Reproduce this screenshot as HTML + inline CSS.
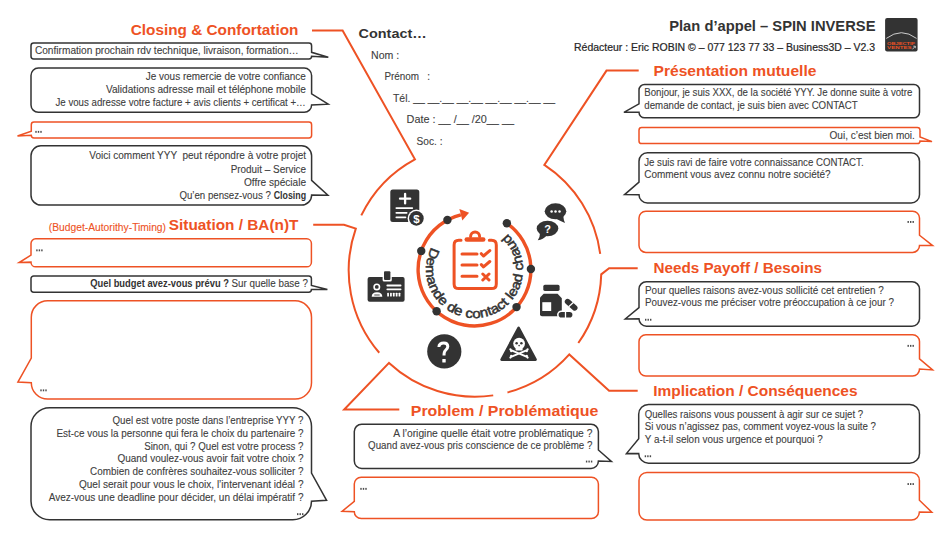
<!DOCTYPE html>
<html><head><meta charset="utf-8"><title>Plan d'appel - SPIN INVERSE</title>
<style>
html,body{margin:0;padding:0;background:#fff;}
body{width:950px;height:534px;overflow:hidden;}
svg{display:block;font-family:"Liberation Sans",sans-serif;}
</style></head><body>
<svg width="950" height="534" viewBox="0 0 950 534">
<path d="M33.67,43.00 H308.93 A2.67,2.67 0 0 1 311.60,45.67 V52.33 L328.30,57.30 L311.60,56.33 V56.33 A2.67,2.67 0 0 1 308.93,59.00 H33.67 A2.67,2.67 0 0 1 31.00,56.33 V45.67 A2.67,2.67 0 0 1 33.67,43.00 Z" fill="#fff" stroke="#333333" stroke-width="1.5" stroke-linejoin="miter"/>
<path d="M38.37,68.10 H304.23 A7.37,7.37 0 0 1 311.60,75.47 V93.88 L328.20,104.20 L311.60,104.93 V104.93 A7.37,7.37 0 0 1 304.23,112.30 H38.37 A7.37,7.37 0 0 1 31.00,104.93 V75.47 A7.37,7.37 0 0 1 38.37,68.10 Z" fill="#fff" stroke="#333333" stroke-width="1.5" stroke-linejoin="miter"/>
<path d="M33.97,122.00 H308.93 A2.67,2.67 0 0 1 311.60,124.67 V135.33 A2.67,2.67 0 0 1 308.93,138.00 H33.97 A2.67,2.67 0 0 1 31.30,135.33 V135.33 L17.50,136.00 L31.30,131.33 V124.67 A2.67,2.67 0 0 1 33.97,122.00 Z" fill="#fff" stroke="#EE5224" stroke-width="1.5" stroke-linejoin="miter"/>
<path d="M40.87,145.80 H301.73 A9.87,9.87 0 0 1 311.60,155.67 V180.33 L327.90,195.30 L311.60,195.13 V195.13 A9.87,9.87 0 0 1 301.73,205.00 H40.87 A9.87,9.87 0 0 1 31.00,195.13 V155.67 A9.87,9.87 0 0 1 40.87,145.80 Z" fill="#fff" stroke="#333333" stroke-width="1.5" stroke-linejoin="miter"/>
<path d="M35.67,238.80 H306.73 A4.67,4.67 0 0 1 311.40,243.47 V262.13 A4.67,4.67 0 0 1 306.73,266.80 H35.67 A4.67,4.67 0 0 1 31.00,262.13 V262.13 L19.20,262.50 L31.00,255.13 V243.47 A4.67,4.67 0 0 1 35.67,238.80 Z" fill="#fff" stroke="#EE5224" stroke-width="1.5" stroke-linejoin="miter"/>
<path d="M33.72,275.90 H308.68 A2.72,2.72 0 0 1 311.40,278.62 V285.41 L327.40,289.60 L311.40,289.48 V289.48 A2.72,2.72 0 0 1 308.68,292.20 H33.72 A2.72,2.72 0 0 1 31.00,289.48 V278.62 A2.72,2.72 0 0 1 33.72,275.90 Z" fill="#fff" stroke="#333333" stroke-width="1.5" stroke-linejoin="miter"/>
<path d="M47.67,300.80 H295.13 A16.37,16.37 0 0 1 311.50,317.17 V382.63 A16.37,16.37 0 0 1 295.13,399.00 H47.67 A16.37,16.37 0 0 1 31.30,382.63 V382.63 L17.90,382.10 L31.30,358.08 V317.17 A16.37,16.37 0 0 1 47.67,300.80 Z" fill="#fff" stroke="#EE5224" stroke-width="1.5" stroke-linejoin="miter"/>
<path d="M49.67,407.80 H292.83 A18.67,18.67 0 0 1 311.50,426.47 V473.13 L326.60,500.30 L311.50,501.13 V501.13 A18.67,18.67 0 0 1 292.83,519.80 H49.67 A18.67,18.67 0 0 1 31.00,501.13 V426.47 A18.67,18.67 0 0 1 49.67,407.80 Z" fill="#fff" stroke="#333333" stroke-width="1.5" stroke-linejoin="miter"/>
<path d="M361.67,424.20 H591.03 A7.37,7.37 0 0 1 598.40,431.57 V449.98 L611.40,461.40 L598.40,461.03 V461.03 A7.37,7.37 0 0 1 591.03,468.40 H361.67 A7.37,7.37 0 0 1 354.30,461.03 V431.57 A7.37,7.37 0 0 1 361.67,424.20 Z" fill="#fff" stroke="#333333" stroke-width="1.5" stroke-linejoin="miter"/>
<path d="M361.20,477.20 H591.50 A6.90,6.90 0 0 1 598.40,484.10 V511.70 A6.90,6.90 0 0 1 591.50,518.60 H361.20 A6.90,6.90 0 0 1 354.30,511.70 V511.70 L342.10,511.30 L354.30,501.35 V484.10 A6.90,6.90 0 0 1 361.20,477.20 Z" fill="#fff" stroke="#EE5224" stroke-width="1.5" stroke-linejoin="miter"/>
<path d="M644.55,84.50 H913.95 A5.55,5.55 0 0 1 919.50,90.05 V112.25 A5.55,5.55 0 0 1 913.95,117.80 H644.55 A5.55,5.55 0 0 1 639.00,112.25 V112.25 L623.90,112.30 L639.00,103.92 V90.05 A5.55,5.55 0 0 1 644.55,84.50 Z" fill="#fff" stroke="#333333" stroke-width="1.5" stroke-linejoin="miter"/>
<path d="M641.67,127.60 H917.33 A2.67,2.67 0 0 1 920.00,130.27 V136.93 L932.00,141.60 L920.00,140.93 V140.93 A2.67,2.67 0 0 1 917.33,143.60 H641.67 A2.67,2.67 0 0 1 639.00,140.93 V130.27 A2.67,2.67 0 0 1 641.67,127.60 Z" fill="#fff" stroke="#EE5224" stroke-width="1.5" stroke-linejoin="miter"/>
<path d="M647.37,152.80 H911.13 A8.37,8.37 0 0 1 919.50,161.17 V194.63 A8.37,8.37 0 0 1 911.13,203.00 H647.37 A8.37,8.37 0 0 1 639.00,194.63 V194.63 L624.60,194.60 L639.00,182.08 V161.17 A8.37,8.37 0 0 1 647.37,152.80 Z" fill="#fff" stroke="#333333" stroke-width="1.5" stroke-linejoin="miter"/>
<path d="M645.87,211.20 H912.63 A6.87,6.87 0 0 1 919.50,218.07 V235.23 L932.60,245.60 L919.50,245.53 V245.53 A6.87,6.87 0 0 1 912.63,252.40 H645.87 A6.87,6.87 0 0 1 639.00,245.53 V218.07 A6.87,6.87 0 0 1 645.87,211.20 Z" fill="#fff" stroke="#EE5224" stroke-width="1.5" stroke-linejoin="miter"/>
<path d="M646.42,281.70 H912.08 A7.42,7.42 0 0 1 919.50,289.12 V318.78 A7.42,7.42 0 0 1 912.08,326.20 H646.42 A7.42,7.42 0 0 1 639.00,318.78 V318.78 L625.30,319.00 L639.00,307.66 V289.12 A7.42,7.42 0 0 1 646.42,281.70 Z" fill="#fff" stroke="#333333" stroke-width="1.5" stroke-linejoin="miter"/>
<path d="M645.88,334.70 H912.62 A6.88,6.88 0 0 1 919.50,341.58 V358.79 L932.60,369.90 L919.50,369.12 V369.12 A6.88,6.88 0 0 1 912.62,376.00 H645.88 A6.88,6.88 0 0 1 639.00,369.12 V341.58 A6.88,6.88 0 0 1 645.88,334.70 Z" fill="#fff" stroke="#EE5224" stroke-width="1.5" stroke-linejoin="miter"/>
<path d="M648.50,404.40 H909.70 A9.80,9.80 0 0 1 919.50,414.20 V453.40 A9.80,9.80 0 0 1 909.70,463.20 H648.50 A9.80,9.80 0 0 1 638.70,453.40 V453.40 L626.40,453.60 L638.70,438.70 V414.20 A9.80,9.80 0 0 1 648.50,404.40 Z" fill="#fff" stroke="#333333" stroke-width="1.5" stroke-linejoin="miter"/>
<path d="M646.92,472.50 H911.48 A7.92,7.92 0 0 1 919.40,480.42 V500.21 L931.80,512.20 L919.40,512.08 V512.08 A7.92,7.92 0 0 1 911.48,520.00 H646.92 A7.92,7.92 0 0 1 639.00,512.08 V480.42 A7.92,7.92 0 0 1 646.92,472.50 Z" fill="#fff" stroke="#EE5224" stroke-width="1.5" stroke-linejoin="miter"/>
<path d="M312.00,30.50 L342.60,30.50 L414.93,159.30  A126.3,126.3 0 0 0 361.29,215.43" fill="none" stroke="#EE5224" stroke-width="2" stroke-linejoin="miter"/>
<path d="M313.20,224.80 L344.00,224.80 L355.80,228.66 A126.3,126.3 0 0 0 379.25,352.76" fill="none" stroke="#EE5224" stroke-width="2" stroke-linejoin="miter"/>
<path d="M399.30,409.50 L344.20,409.50 L389.02,362.92 A126.3,126.3 0 0 0 493.23,395.38" fill="none" stroke="#EE5224" stroke-width="2" stroke-linejoin="miter"/>
<path d="M637.70,390.70 L609.10,390.70 L569.30,354.42 A126.3,126.3 0 0 1 507.48,392.45" fill="none" stroke="#EE5224" stroke-width="2" stroke-linejoin="miter"/>
<path d="M637.70,268.20 L609.10,268.20 L601.24,274.37 A126.3,126.3 0 0 1 578.33,343.02" fill="none" stroke="#EE5224" stroke-width="2" stroke-linejoin="miter"/>
<path d="M638.70,70.60 L606.50,70.60 L544.34,164.84 A126.3,126.3 0 0 1 600.22,253.91" fill="none" stroke="#EE5224" stroke-width="2" stroke-linejoin="miter"/>
<path d="M506.85,223.30 A56.4,56.4 0 1 1 460.86,214.78" fill="none" stroke="#EE5224" stroke-width="3.4"/>
<path d="M459.40,208.95 L469.10,212.72 L462.31,220.60 Z" fill="#EE5224"/>
<circle cx="447.42" cy="220.03" r="4.2" fill="#333333"/>
<circle cx="421.24" cy="250.95" r="4.2" fill="#333333"/>
<circle cx="436.61" cy="311.28" r="4.2" fill="#333333"/>
<circle cx="516.54" cy="307.09" r="4.2" fill="#333333"/>
<circle cx="530.90" cy="269.01" r="4.2" fill="#333333"/>
<circle cx="506.85" cy="223.30" r="4.2" fill="#333333"/>
<path id="cp" d="M431.48,247.11 A48.5,48.5 0 1 0 507.58,234.03" fill="none"/>
<text font-size="13.3" fill="#333" stroke="#333" stroke-width="0.5" textLength="215.4" lengthAdjust="spacingAndGlyphs"><textPath href="#cp" textLength="215.4" lengthAdjust="spacingAndGlyphs">Demande de contact lead chaud</textPath></text>
<g fill="none" stroke="#EE5224" stroke-width="3" stroke-linecap="round" stroke-linejoin="round">
<path d="M461,240.2 H458.8 Q454.1,240.2 454.1,244.9 V283.9 Q454.1,288.6 458.8,288.6 H491.6 Q496.3,288.6 496.3,283.9 V244.9 Q496.3,240.2 491.6,240.2 H489.3"/>
<path d="M470.6,236.6 A4.5,4.5 0 0 1 479.6,236.6"/>
<path d="M462,254 H477 M462,265 H477 M462,276.3 H477"/>
<path d="M481.3,253.7 L483.5,256 L489.8,250.6 M481.3,264.6 L483.5,266.9 L489.8,261.5 M482.8,274 L489,280 M489,274 L482.8,280"/>
</g>
<rect x="464.5" y="237.2" width="21" height="4.6" rx="2.3" fill="#EE5224"/>
<rect x="390.3" y="189.4" width="29" height="32.7" rx="2.5" fill="#333333"/>
<g stroke="#fff" stroke-width="2.3" stroke-linecap="round"><path d="M400,198.7 H410.2 M405.1,193.8 V203.4"/><path d="M396.3,208.1 H412.3 M396.3,212.8 H406.7 M396.3,217.3 H405.5" stroke-width="1.7"/></g>
<circle cx="416.4" cy="218.4" r="8.8" fill="#fff"/><circle cx="416.4" cy="218.4" r="7.3" fill="#333333"/>
<text x="416.4" y="222.6" font-size="11.5" font-weight="bold" fill="#fff" text-anchor="middle">$</text>
<rect x="367.6" y="276.9" width="37" height="24.8" rx="2" fill="#333333"/>
<rect x="382.6" y="269.8" width="9.2" height="11.6" rx="1.5" fill="#fff"/>
<rect x="384" y="271.2" width="6.4" height="8.9" rx="1" fill="#333333"/>
<circle cx="376.8" cy="286.9" r="3.5" fill="#fff"/>
<circle cx="376.8" cy="286.9" r="1.9" fill="#333333"/>
<path d="M371.7,296.8 Q371.7,292.2 377,292.2 Q382.3,292.2 382.3,296.8 Z" fill="#fff"/>
<path d="M374.3,295 H379.7" stroke="#333333" stroke-width="0.9"/>
<path d="M387.3,285.5 H400.6 M387.3,289.3 H400.6" stroke="#fff" stroke-width="1.8" stroke-linecap="round"/>
<rect x="387.20" y="292.7" width="1.75" height="3.9" rx="0.6" fill="#fff"/>
<rect x="390.05" y="292.7" width="1.75" height="3.9" rx="0.6" fill="#fff"/>
<rect x="392.90" y="292.7" width="1.75" height="3.9" rx="0.6" fill="#fff"/>
<rect x="395.75" y="292.7" width="1.75" height="3.9" rx="0.6" fill="#fff"/>
<rect x="398.60" y="292.7" width="1.75" height="3.9" rx="0.6" fill="#fff"/>
<circle cx="444.3" cy="351.4" r="17.1" fill="#333333"/>
<path d="M438.9,347 C438.9,344.5 441,342.9 443.8,342.9 C446.4,342.9 447.8,344.6 447.8,346.6 C447.8,348.6 446.6,349.6 445.3,350.6 C444.2,351.5 444,352.5 444,355.6" fill="none" stroke="#fff" stroke-width="3"/>
<rect x="442.3" y="358.9" width="3.4" height="3.6" rx="0.5" fill="#fff"/>
<path d="M518.6,327.8 L501.6,359.6 L535.6,359.6 Z" fill="#333333" stroke="#333333" stroke-width="2.6" stroke-linejoin="round"/>
<circle cx="519.1" cy="343.6" r="5.9" fill="#fff"/>
<rect x="515.6" y="346" width="7" height="4.6" rx="1.2" fill="#fff"/>
<circle cx="516.6" cy="343.2" r="1.25" fill="#333333"/><circle cx="521.4" cy="343.2" r="1.25" fill="#333333"/><circle cx="519.1" cy="345.6" r="0.8" fill="#333333"/>
<path d="M511,350.2 L527,356.8 M527,350.2 L511,356.8" stroke="#fff" stroke-width="2" stroke-linecap="round"/>
<circle cx="510.4" cy="349.4" r="1.1" fill="#fff"/>
<circle cx="511.2" cy="351.2" r="1.1" fill="#fff"/>
<circle cx="527.6" cy="349.4" r="1.1" fill="#fff"/>
<circle cx="526.8" cy="351.2" r="1.1" fill="#fff"/>
<circle cx="510.4" cy="357.6" r="1.1" fill="#fff"/>
<circle cx="511.2" cy="355.8" r="1.1" fill="#fff"/>
<circle cx="527.6" cy="357.6" r="1.1" fill="#fff"/>
<circle cx="526.8" cy="355.8" r="1.1" fill="#fff"/>
<rect x="543.3" y="284.8" width="16.3" height="6.1" rx="1.6" fill="#333333"/>
<path d="M543.7,293.7 H557.6 L561.8,298.3 V314.3 Q561.8,316.3 559.8,316.3 H542 Q540,316.3 540,314.3 V297.6 Z" fill="#333333"/>
<rect x="542.3" y="302.2" width="8.9" height="8.8" fill="#fff"/>
<rect x="557" y="310.4" width="17" height="8.8" rx="4.4" fill="#fff"/>
<rect x="558.6" y="312" width="13.8" height="5.6" rx="2.8" fill="#333333"/>
<path d="M565.5,311.5 V318" stroke="#fff" stroke-width="1.3"/>
<path d="M567.6,301.6 L574.7,307.9" stroke="#333333" stroke-width="5.6" stroke-linecap="round"/>
<path d="M568.6,306.8 L573.6,302.3" stroke="#fff" stroke-width="1.3"/>
<ellipse cx="555.5" cy="211.3" rx="10.8" ry="8" fill="#333333"/>
<path d="M555.5,218.6 Q561,221.5 565,222.9 Q563.6,220 563.3,216.3 Z" fill="#333333"/>
<circle cx="551.6" cy="211.6" r="1.25" fill="#fff"/><circle cx="555.5" cy="211.6" r="1.25" fill="#fff"/><circle cx="559.5" cy="211.6" r="1.25" fill="#fff"/>
<ellipse cx="547.5" cy="228.5" rx="12.2" ry="9.2" fill="#fff"/>
<ellipse cx="547.5" cy="228.5" rx="10.8" ry="7.8" fill="#333333"/>
<path d="M540,233.3 Q540,237.5 537.8,240.3 Q543.2,239.6 546.8,235.6 Z" fill="#333333"/>
<text x="547.6" y="232.6" font-size="11" font-weight="bold" fill="#fff" text-anchor="middle">?</text>
<rect x="885.1" y="18" width="32.5" height="33.6" rx="2" fill="#333"/>
<path d="M886.3,38.4 Q901.4,27 916.5,38.4" fill="none" stroke="#ddd" stroke-width="0.9"/>
<text x="887.1" y="44.7" font-size="4.2" font-weight="bold" fill="#EE5224" textLength="28" lengthAdjust="spacingAndGlyphs">OBJECTIF</text>
<text x="887.1" y="49.4" font-size="4.2" font-weight="bold" fill="#EE5224" textLength="24.5" lengthAdjust="spacingAndGlyphs">VENTES</text>
<path d="M912.5,49.3 L915.2,46.3 M913.3,46.2 H915.3 V48.2" stroke="#ddd" stroke-width="0.8" fill="none"/>
<text x="130.80" y="34.80" font-size="15.1" fill="#EE5224" font-weight="bold" textLength="167.60" lengthAdjust="spacingAndGlyphs" style="white-space:pre">Closing &amp; Confortation</text>
<text x="48.80" y="230.50" font-size="10.0" fill="#EE5224" stroke="#EE5224" stroke-width="0.1" font-weight="normal" textLength="117.20" lengthAdjust="spacingAndGlyphs" style="white-space:pre">(Budget-Autorithy-Timing)</text>
<text x="168.80" y="230.20" font-size="15.1" fill="#EE5224" font-weight="bold" textLength="129.60" lengthAdjust="spacingAndGlyphs" style="white-space:pre">Situation / BA(n)T</text>
<text x="410.80" y="415.80" font-size="15.1" fill="#EE5224" font-weight="bold" textLength="187.60" lengthAdjust="spacingAndGlyphs" style="white-space:pre">Problem / Problématique</text>
<text x="653.50" y="76.10" font-size="15.1" fill="#EE5224" font-weight="bold" textLength="162.90" lengthAdjust="spacingAndGlyphs" style="white-space:pre">Présentation mutuelle</text>
<text x="653.50" y="272.70" font-size="15.1" fill="#EE5224" font-weight="bold" textLength="168.50" lengthAdjust="spacingAndGlyphs" style="white-space:pre">Needs Payoff / Besoins</text>
<text x="653.20" y="396.10" font-size="15.1" fill="#EE5224" font-weight="bold" textLength="204.30" lengthAdjust="spacingAndGlyphs" style="white-space:pre">Implication / Conséquences</text>
<text x="669.20" y="30.60" font-size="14.4" fill="#333" font-weight="bold" textLength="206.30" lengthAdjust="spacingAndGlyphs" style="white-space:pre">Plan d’appel – SPIN INVERSE</text>
<text x="574.00" y="50.90" font-size="10.3" fill="#262626" stroke="#262626" stroke-width="0.2" font-weight="normal" textLength="301.00" lengthAdjust="spacingAndGlyphs" style="white-space:pre">Rédacteur : Eric ROBIN © – 077 123 77 33 – Business3D – V2.3</text>
<text x="358.50" y="37.60" font-size="13.6" fill="#333" font-weight="bold" textLength="68.20" lengthAdjust="spacingAndGlyphs" style="white-space:pre">Contact…</text>
<text x="371.00" y="58.50" font-size="10.1" fill="#404040" stroke="#404040" stroke-width="0.1" font-weight="normal" textLength="28.20" lengthAdjust="spacingAndGlyphs" style="white-space:pre">Nom :</text>
<text x="384.40" y="80.00" font-size="10.1" fill="#404040" stroke="#404040" stroke-width="0.1" font-weight="normal" textLength="45.60" lengthAdjust="spacingAndGlyphs" style="white-space:pre">Prénom   :</text>
<text x="393.00" y="102.00" font-size="10.1" fill="#404040" stroke="#404040" stroke-width="0.1" font-weight="normal" textLength="162.00" lengthAdjust="spacingAndGlyphs" style="white-space:pre">Tél. __ __.__ __.__ __.__ __.__ __</text>
<text x="406.60" y="123.40" font-size="10.1" fill="#404040" stroke="#404040" stroke-width="0.1" font-weight="normal" textLength="107.40" lengthAdjust="spacingAndGlyphs" style="white-space:pre">Date : __ /__ /20__ __</text>
<text x="416.60" y="145.00" font-size="10.1" fill="#404040" stroke="#404040" stroke-width="0.1" font-weight="normal" textLength="25.90" lengthAdjust="spacingAndGlyphs" style="white-space:pre">Soc. :</text>
<text x="34.90" y="54.20" font-size="10.0" fill="#404040" stroke="#404040" stroke-width="0.1" font-weight="normal" textLength="263.80" lengthAdjust="spacingAndGlyphs" style="white-space:pre">Confirmation prochain rdv technique, livraison, formation…</text>
<text x="145.80" y="79.70" font-size="10.0" fill="#404040" stroke="#404040" stroke-width="0.1" font-weight="normal" textLength="160.00" lengthAdjust="spacingAndGlyphs" style="white-space:pre">Je vous remercie de votre confiance</text>
<text x="106.00" y="92.70" font-size="10.0" fill="#404040" stroke="#404040" stroke-width="0.1" font-weight="normal" textLength="199.80" lengthAdjust="spacingAndGlyphs" style="white-space:pre">Validations adresse mail et téléphone mobile</text>
<text x="55.50" y="105.80" font-size="10.0" fill="#404040" stroke="#404040" stroke-width="0.1" font-weight="normal" textLength="250.30" lengthAdjust="spacingAndGlyphs" style="white-space:pre">Je vous adresse votre facture + avis clients + certificat +…</text>
<rect x="35.30" y="130.90" width="1.4" height="1.9" fill="#4a4a4a"/>
<rect x="37.80" y="130.90" width="1.4" height="1.9" fill="#4a4a4a"/>
<rect x="40.30" y="130.90" width="1.4" height="1.9" fill="#4a4a4a"/>
<text x="89.30" y="159.40" font-size="10.0" fill="#404040" stroke="#404040" stroke-width="0.1" font-weight="normal" textLength="216.80" lengthAdjust="spacingAndGlyphs" style="white-space:pre">Voici comment YYY  peut répondre à votre projet</text>
<text x="230.70" y="172.50" font-size="10.0" fill="#404040" stroke="#404040" stroke-width="0.1" font-weight="normal" textLength="75.40" lengthAdjust="spacingAndGlyphs" style="white-space:pre">Produit – Service</text>
<text x="243.90" y="185.50" font-size="10.0" fill="#404040" stroke="#404040" stroke-width="0.1" font-weight="normal" textLength="62.20" lengthAdjust="spacingAndGlyphs" style="white-space:pre">Offre spéciale</text>
<text x="179.40" y="198.70" font-size="10.0" fill="#404040" stroke="#404040" stroke-width="0.1" font-weight="normal" textLength="91.40" lengthAdjust="spacingAndGlyphs" style="white-space:pre">Qu’en pensez-vous ?</text>
<text x="273.70" y="198.70" font-size="10.2" fill="#333" font-weight="bold" textLength="32.40" lengthAdjust="spacingAndGlyphs" style="white-space:pre">Closing</text>
<rect x="36.20" y="249.40" width="1.4" height="1.9" fill="#4a4a4a"/>
<rect x="38.70" y="249.40" width="1.4" height="1.9" fill="#4a4a4a"/>
<rect x="41.20" y="249.40" width="1.4" height="1.9" fill="#4a4a4a"/>
<text x="90.30" y="286.50" font-size="10.0" fill="#333" font-weight="bold" textLength="138.60" lengthAdjust="spacingAndGlyphs" style="white-space:pre">Quel budget avez-vous prévu ?</text>
<text x="231.50" y="286.50" font-size="10.0" fill="#404040" stroke="#404040" stroke-width="0.1" font-weight="normal" textLength="76.40" lengthAdjust="spacingAndGlyphs" style="white-space:pre">Sur quelle base ?</text>
<rect x="40.30" y="389.40" width="1.4" height="1.9" fill="#4a4a4a"/>
<rect x="42.80" y="389.40" width="1.4" height="1.9" fill="#4a4a4a"/>
<rect x="45.30" y="389.40" width="1.4" height="1.9" fill="#4a4a4a"/>
<text x="112.50" y="423.60" font-size="10.0" fill="#404040" stroke="#404040" stroke-width="0.1" font-weight="normal" textLength="191.00" lengthAdjust="spacingAndGlyphs" style="white-space:pre">Quel est votre poste dans l’entreprise YYY ?</text>
<text x="56.50" y="436.55" font-size="10.0" fill="#404040" stroke="#404040" stroke-width="0.1" font-weight="normal" textLength="247.00" lengthAdjust="spacingAndGlyphs" style="white-space:pre">Est-ce vous la personne qui fera le choix du partenaire ?</text>
<text x="144.20" y="449.50" font-size="10.0" fill="#404040" stroke="#404040" stroke-width="0.1" font-weight="normal" textLength="159.30" lengthAdjust="spacingAndGlyphs" style="white-space:pre">Sinon, qui ? Quel est votre process ?</text>
<text x="117.40" y="462.45" font-size="10.0" fill="#404040" stroke="#404040" stroke-width="0.1" font-weight="normal" textLength="186.10" lengthAdjust="spacingAndGlyphs" style="white-space:pre">Quand voulez-vous avoir fait votre choix ?</text>
<text x="90.10" y="475.40" font-size="10.0" fill="#404040" stroke="#404040" stroke-width="0.1" font-weight="normal" textLength="213.40" lengthAdjust="spacingAndGlyphs" style="white-space:pre">Combien de confrères souhaitez-vous solliciter ?</text>
<text x="78.90" y="488.35" font-size="10.0" fill="#404040" stroke="#404040" stroke-width="0.1" font-weight="normal" textLength="224.60" lengthAdjust="spacingAndGlyphs" style="white-space:pre">Quel serait pour vous le choix, l’intervenant idéal ?</text>
<text x="48.70" y="501.30" font-size="10.0" fill="#404040" stroke="#404040" stroke-width="0.1" font-weight="normal" textLength="254.80" lengthAdjust="spacingAndGlyphs" style="white-space:pre">Avez-vous une deadline pour décider, un délai impératif ?</text>
<rect x="297.00" y="513.20" width="1.4" height="1.9" fill="#4a4a4a"/>
<rect x="299.50" y="513.20" width="1.4" height="1.9" fill="#4a4a4a"/>
<rect x="302.00" y="513.20" width="1.4" height="1.9" fill="#4a4a4a"/>
<text x="393.30" y="436.60" font-size="10.0" fill="#404040" stroke="#404040" stroke-width="0.1" font-weight="normal" textLength="199.10" lengthAdjust="spacingAndGlyphs" style="white-space:pre">A l’origine quelle était votre problématique ?</text>
<text x="368.10" y="449.20" font-size="10.0" fill="#404040" stroke="#404040" stroke-width="0.1" font-weight="normal" textLength="224.30" lengthAdjust="spacingAndGlyphs" style="white-space:pre">Quand avez-vous pris conscience de ce problème ?</text>
<rect x="585.90" y="460.60" width="1.4" height="1.9" fill="#4a4a4a"/>
<rect x="588.40" y="460.60" width="1.4" height="1.9" fill="#4a4a4a"/>
<rect x="590.90" y="460.60" width="1.4" height="1.9" fill="#4a4a4a"/>
<rect x="360.30" y="487.90" width="1.4" height="1.9" fill="#4a4a4a"/>
<rect x="362.80" y="487.90" width="1.4" height="1.9" fill="#4a4a4a"/>
<rect x="365.30" y="487.90" width="1.4" height="1.9" fill="#4a4a4a"/>
<text x="644.30" y="96.30" font-size="10.0" fill="#404040" stroke="#404040" stroke-width="0.1" font-weight="normal" textLength="268.10" lengthAdjust="spacingAndGlyphs" style="white-space:pre">Bonjour, je suis XXX, de la société YYY. Je donne suite à votre</text>
<text x="644.30" y="108.60" font-size="10.0" fill="#404040" stroke="#404040" stroke-width="0.1" font-weight="normal" textLength="213.40" lengthAdjust="spacingAndGlyphs" style="white-space:pre">demande de contact, je suis bien avec CONTACT</text>
<text x="829.50" y="139.00" font-size="10.0" fill="#404040" stroke="#404040" stroke-width="0.1" font-weight="normal" textLength="85.40" lengthAdjust="spacingAndGlyphs" style="white-space:pre">Oui, c’est bien moi.</text>
<text x="644.20" y="165.50" font-size="10.0" fill="#404040" stroke="#404040" stroke-width="0.1" font-weight="normal" textLength="219.40" lengthAdjust="spacingAndGlyphs" style="white-space:pre">Je suis ravi de faire votre connaissance CONTACT.</text>
<text x="644.20" y="177.80" font-size="10.0" fill="#404040" stroke="#404040" stroke-width="0.1" font-weight="normal" textLength="186.50" lengthAdjust="spacingAndGlyphs" style="white-space:pre">Comment vous avez connu notre société?</text>
<rect x="907.50" y="221.00" width="1.4" height="1.9" fill="#4a4a4a"/>
<rect x="910.00" y="221.00" width="1.4" height="1.9" fill="#4a4a4a"/>
<rect x="912.50" y="221.00" width="1.4" height="1.9" fill="#4a4a4a"/>
<text x="645.00" y="294.10" font-size="10.0" fill="#404040" stroke="#404040" stroke-width="0.1" font-weight="normal" textLength="238.80" lengthAdjust="spacingAndGlyphs" style="white-space:pre">Pour quelles raisons avez-vous sollicité cet entretien ?</text>
<text x="645.00" y="306.40" font-size="10.0" fill="#404040" stroke="#404040" stroke-width="0.1" font-weight="normal" textLength="248.90" lengthAdjust="spacingAndGlyphs" style="white-space:pre">Pouvez-vous me préciser votre préoccupation à ce jour ?</text>
<rect x="645.00" y="318.80" width="1.4" height="1.9" fill="#4a4a4a"/>
<rect x="647.50" y="318.80" width="1.4" height="1.9" fill="#4a4a4a"/>
<rect x="650.00" y="318.80" width="1.4" height="1.9" fill="#4a4a4a"/>
<rect x="907.50" y="344.90" width="1.4" height="1.9" fill="#4a4a4a"/>
<rect x="910.00" y="344.90" width="1.4" height="1.9" fill="#4a4a4a"/>
<rect x="912.50" y="344.90" width="1.4" height="1.9" fill="#4a4a4a"/>
<text x="644.70" y="417.50" font-size="10.0" fill="#404040" stroke="#404040" stroke-width="0.1" font-weight="normal" textLength="218.50" lengthAdjust="spacingAndGlyphs" style="white-space:pre">Quelles raisons vous poussent à agir sur ce sujet ?</text>
<text x="644.70" y="430.30" font-size="10.0" fill="#404040" stroke="#404040" stroke-width="0.1" font-weight="normal" textLength="231.30" lengthAdjust="spacingAndGlyphs" style="white-space:pre">Si vous n’agissez pas, comment voyez-vous la suite ?</text>
<text x="644.70" y="443.30" font-size="10.0" fill="#404040" stroke="#404040" stroke-width="0.1" font-weight="normal" textLength="178.00" lengthAdjust="spacingAndGlyphs" style="white-space:pre">Y a-t-il selon vous urgence et pourquoi ?</text>
<rect x="644.70" y="455.30" width="1.4" height="1.9" fill="#4a4a4a"/>
<rect x="647.20" y="455.30" width="1.4" height="1.9" fill="#4a4a4a"/>
<rect x="649.70" y="455.30" width="1.4" height="1.9" fill="#4a4a4a"/>
<rect x="907.50" y="483.10" width="1.4" height="1.9" fill="#4a4a4a"/>
<rect x="910.00" y="483.10" width="1.4" height="1.9" fill="#4a4a4a"/>
<rect x="912.50" y="483.10" width="1.4" height="1.9" fill="#4a4a4a"/>
</svg>
</body></html>
